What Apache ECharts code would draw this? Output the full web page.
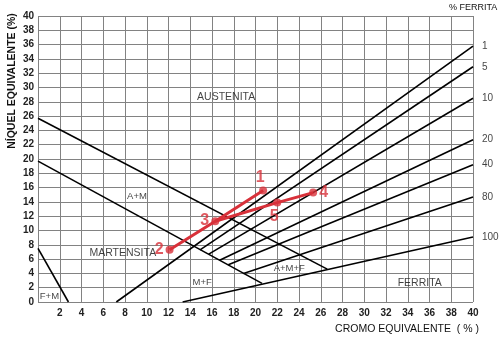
<!DOCTYPE html>
<html><head><meta charset="utf-8">
<script src="https://cdn.jsdelivr.net/npm/echarts@6/dist/echarts.min.js"></script>
<style>html,body{margin:0;padding:0;background:#fff}#c{width:500px;height:338px}</style>
</head><body><div id="c"></div>
<script>
// Phase boundary lines (Cr eq, Ni eq)
const lineFM = [[0, 7.5], [2.8, 0]];
const lineMartUpper = [[0, 25.7], [26.6, 4.6]];
const lineMartLower = [[0, 19.7], [20.6, 2.6]];
// Ferrite iso-lines
const ferriteLabels = ['1', '5', '10', '20', '40', '80', '100'];
const ferrite1 = [[7.2, 0], [40, 35.8]];
const ferrite5 = [[14.9, 7.3], [40, 32.9]];
const ferrite10 = [[15.7, 6.7], [40, 28.5]];
const ferrite20 = [[16.7, 5.85], [40, 22.7]];
const ferrite40 = [[17.5, 5.2], [40, 19.2]];
const ferrite80 = [[18.9, 4.0], [40, 14.7]];
const ferrite100 = [[13.3, 0], [40, 9.1]];
// Region labels
const bigRegionNames = ['AUSTENITA', 'MARTENSITA', 'FERRITA'];
const bigRegionX = [17.3, 7.8, 35.1];
const bigRegionY = [28.7, 6.8, 2.6];
const smallRegionNames = ['A+M', 'M+F', 'F+M', 'A+M+F'];
const smallRegionX = [9.1, 15.1, 1.05, 23.1];
const smallRegionY = [14.8, 2.75, 0.75, 4.65];
// Weld points
const pointNames = ['1', '2', '3', '4', '5'];
const pointX = [20.7, 12.1, 16.3, 25.3, 22.0];
const pointY = [15.6, 7.3, 11.3, 15.3, 13.9];
const pathA = ['2', '3', '1'];
const pathB = ['3', '5', '4'];

const FONT = '"Liberation Sans", Arial, sans-serif';
const RED = '#d8313a';
const ferriteLines = [ferrite1, ferrite5, ferrite10, ferrite20, ferrite40, ferrite80, ferrite100];

function blackLine(data) {
  return { type: 'line', data: data, symbol: 'none', silent: true,
    lineStyle: { color: '#000', width: 1.6 }, z: 3, animation: false };
}
function pt(name) { const i = pointNames.indexOf(name); return [pointX[i], pointY[i]]; }
const labelPos = { '1': 'top', '2': 'left', '3': 'left', '4': 'right', '5': 'bottom' };
const labelOff = { '1': [-3, 1], '2': [0, 0], '3': [0, -1], '4': [0, 0], '5': [-3, 0] };

const series = [];
[lineFM, lineMartUpper, lineMartLower].forEach(d => series.push(blackLine(d)));
ferriteLines.forEach(d => series.push(blackLine(d)));
series.push({
  type: 'scatter', symbolSize: 0, silent: true, clip: false, z: 4,
  data: ferriteLines.map((d, i) => ({ value: d[1], name: ferriteLabels[i] })),
  label: { show: true, formatter: '{b}', position: 'right', distance: 9,
    fontFamily: FONT, fontSize: 10, color: '#111' }
});
series.push({
  type: 'scatter', symbolSize: 0, silent: true, z: 4,
  data: bigRegionNames.map((n, i) => ({ value: [bigRegionX[i], bigRegionY[i]], name: n })),
  label: { show: true, formatter: '{b}', position: 'inside', fontFamily: FONT, fontSize: 10.5, color: '#111' }
});
series.push({
  type: 'scatter', symbolSize: 0, silent: true, z: 4,
  data: smallRegionNames.map((n, i) => ({ value: [smallRegionX[i], smallRegionY[i]], name: n })),
  label: { show: true, formatter: '{b}', position: 'inside', fontFamily: FONT, fontSize: 9.5, color: '#111' }
});
[pathA, pathB].forEach(p => series.push({
  type: 'line', data: p.map(pt), symbol: 'none', silent: true, z: 5,
  lineStyle: { color: RED, width: 3 }
}));
series.push({
  type: 'scatter', symbol: 'circle', symbolSize: 8, z: 6, silent: true,
  itemStyle: { color: RED },
  data: pointNames.map((n, i) => ({ value: [pointX[i], pointY[i]], name: n,
    label: { position: labelPos[n], offset: labelOff[n] } })),
  label: { show: true, formatter: '{b}', distance: 2, fontFamily: FONT, fontSize: 16,
    fontWeight: 'bold', color: RED }
});

const chart = echarts.init(document.getElementById('c'), null, { renderer: 'canvas' });
chart.setOption({
  animation: false,
  backgroundColor: '#fff',
  grid: { left: 38, right: 27, top: 16, bottom: 36, containLabel: false },
  xAxis: { type: 'value', min: 0, max: 40, interval: 2,
    axisLine: { show: false }, axisTick: { show: false },
    axisLabel: { margin: 6, fontFamily: FONT, fontSize: 10, fontWeight: 'bold', color: '#222',
      formatter: v => v === 0 ? '' : String(v) },
    splitLine: { show: true, lineStyle: { color: '#828282', width: 1 } } },
  yAxis: { type: 'value', min: 0, max: 40, interval: 2,
    axisLine: { show: false }, axisTick: { show: false },
    axisLabel: { margin: 4, fontFamily: FONT, fontSize: 10, fontWeight: 'bold', color: '#222' },
    splitLine: { show: true, lineStyle: { color: '#828282', width: 1 } } },
  graphic: [
    { type: 'text', left: 449, top: 3, style: { text: '% FERRITA', font: '9px ' + FONT, fill: '#111' } },
    { type: 'text', x: 407, y: 329, style: { text: 'CROMO EQUIVALENTE  ( % )', font: '10.5px ' + FONT,
      fill: '#111', align: 'center', verticalAlign: 'middle' } },
    { type: 'text', x: 12, y: 81, rotation: Math.PI / 2, style: { text: 'NÍQUEL EQUIVALENTE (%)',
      font: 'bold 10.5px ' + FONT, fill: '#111', align: 'center', verticalAlign: 'middle' } }
  ],
  series: series
});
</script></body></html>
